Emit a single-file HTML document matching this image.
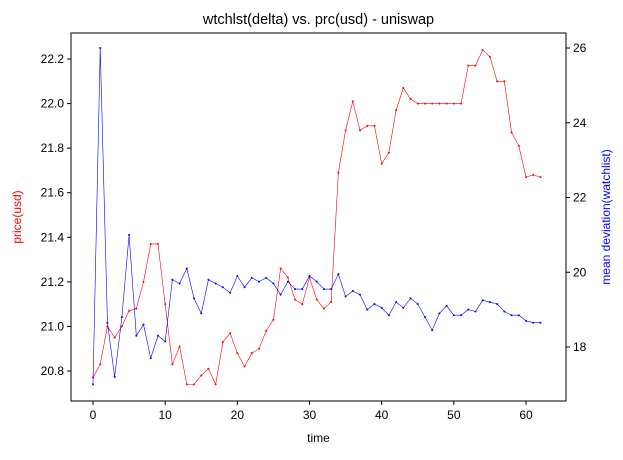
<!DOCTYPE html>
<html><head><meta charset="utf-8"><style>
body{margin:0;background:#fff;font-family:"Liberation Sans",sans-serif}
</style></head><body>
<svg id="chart" width="623" height="455" xmlns="http://www.w3.org/2000/svg" font-family="Liberation Sans, sans-serif"></svg>
<script>
const timeSteps = Array.from({length:63},(_,i)=>i);
const priceUsd = [20.77,20.83,21.00,20.95,21.00,21.07,21.08,21.20,21.37,21.37,21.10,20.83,20.91,20.74,20.74,20.78,20.81,20.74,20.93,20.97,20.88,20.82,20.88,20.90,20.98,21.03,21.26,21.22,21.12,21.10,21.22,21.12,21.08,21.11,21.69,21.88,22.01,21.88,21.90,21.90,21.73,21.78,21.97,22.07,22.02,22.00,22.00,22.00,22.00,22.00,22.00,22.00,22.17,22.17,22.24,22.21,22.10,22.10,21.87,21.81,21.67,21.68,21.67];
const meanDeviation = [17.0,26.0,18.65,17.2,18.8,21.0,18.3,18.6,17.7,18.3,18.15,19.8,19.7,20.1,19.3,18.9,19.8,19.7,19.6,19.45,19.9,19.6,19.85,19.75,19.85,19.7,19.4,19.75,19.55,19.55,19.9,19.75,19.55,19.55,19.95,19.35,19.5,19.4,19.0,19.15,19.05,18.85,19.2,19.05,19.3,19.15,18.8,18.45,18.9,19.1,18.85,18.85,19.0,18.95,19.25,19.2,19.15,18.95,18.85,18.85,18.7,18.65,18.65];
const xTicks = [0,10,20,30,40,50,60];
const leftTicks = [20.8,21.0,21.2,21.4,21.6,21.8,22.0,22.2];
const rightTicks = [18,20,22,24,26];

const svg=document.getElementById('chart');
const NS='http://www.w3.org/2000/svg';
const L=71,R=566,T=33,B=401;
const xs=v=>93+(v-0)*(526-93)/60;
const yl=v=>371+(v-20.8)*(59-371)/1.4;
const yr=v=>347+(v-18)*(48-347)/8;
function mk(tag,attrs,parent){const e=document.createElementNS(NS,tag);for(const k in attrs)e.setAttribute(k,attrs[k]);(parent||svg).appendChild(e);return e;}
function txt(s,attrs){const e=mk('text',attrs);e.textContent=s;return e;}

const frame=mk('rect',{x:L,y:T,width:R-L,height:B-T,fill:'none',stroke:'#000','stroke-width':1});



xTicks.forEach(t=>{const x=xs(t);
 const l=mk('line',{x1:x,x2:x,y1:B,y2:B+4,stroke:'#000'});
 
 
 const e=txt(String(t),{x:x,y:B+18,'text-anchor':'middle','font-size':12});
 
 
});
leftTicks.forEach(t=>{const y=yl(t);
 const l=mk('line',{x1:L-4,x2:L,y1:y,y2:y,stroke:'#000'});
 
 
 const e=txt(t.toFixed(1),{x:L-7,y:y+4,'text-anchor':'end','font-size':12});
 
 
});
rightTicks.forEach(t=>{const y=yr(t);
 const l=mk('line',{x1:R,x2:R+4,y1:y,y2:y,stroke:'#000'});
 
 
 const e=txt(String(t),{x:R+7,y:y+4,'text-anchor':'start','font-size':12});
 
 
});

function series(vals,yf,color,name){
 const pts=vals.map((v,i)=>xs(timeSteps[i])+','+yf(v)).join(' ');
 const p=mk('polyline',{points:pts,fill:'none',stroke:color,'stroke-width':0.6});
 
 
 vals.forEach((v,i)=>{const c=mk('circle',{cx:xs(timeSteps[i]),cy:yf(v),r:1,fill:color});
  
  });
}
series(priceUsd,yl,'red','price');
series(meanDeviation,yr,'blue','deviation');

let e=txt('wtchlst(delta) vs. prc(usd) - uniswap',{x:(L+R)/2,y:24,'text-anchor':'middle','font-size':14.5});

e=txt('time',{x:(L+R)/2,y:442,'text-anchor':'middle','font-size':12});

e=txt('price(usd)',{x:0,y:0,'text-anchor':'middle','font-size':12,fill:'red',transform:'translate(21,217) rotate(-90)'});

e=txt('mean deviation(watchlist)',{x:0,y:0,'text-anchor':'middle','font-size':12,fill:'blue',transform:'translate(610,217) rotate(-90)'});

</script>
</body></html>
